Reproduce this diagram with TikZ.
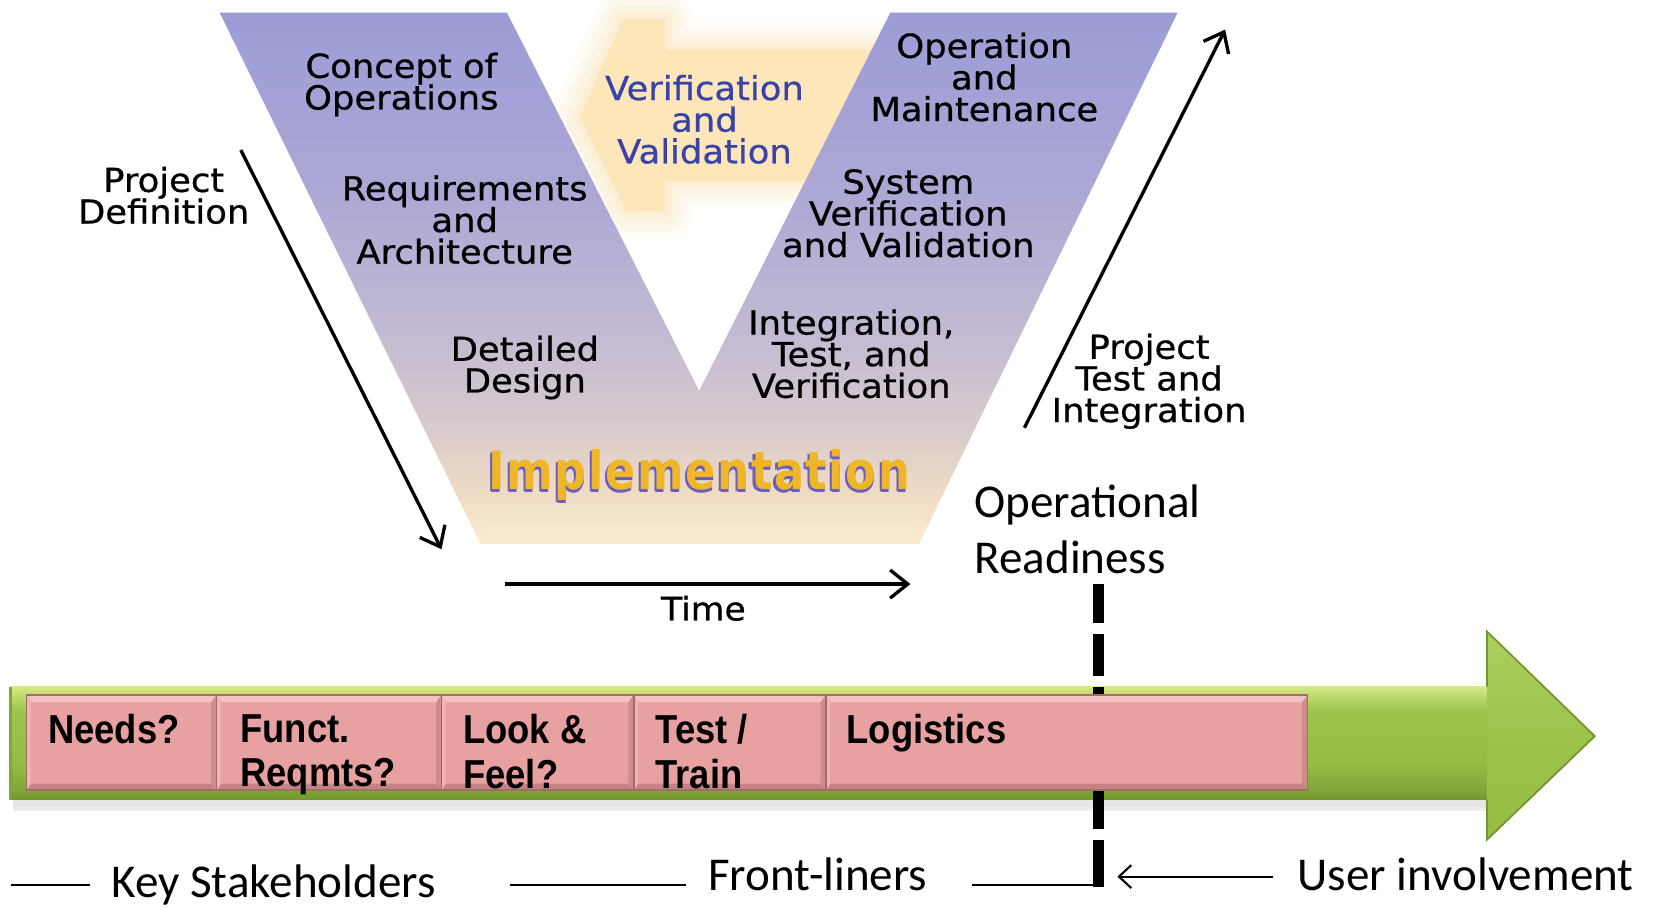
\documentclass[tikz,border=0pt]{standalone}
\usepackage{fontspec}
\setmainfont{DejaVu Sans}
\newfontfamily\vfont{DejaVu Sans}[FakeBold=0.7,FakeStretch=1.07]
\newfontfamily\implfont{DejaVu Sans}[FakeStretch=0.85,LetterSpace=3]
\newfontfamily\boxfont{Liberation Sans}[FakeStretch=0.9]
\newfontfamily\calfont{Carlito}
\usetikzlibrary{arrows.meta}
% lines in the V labels sit closer than their glyphs would allow
\newcommand\tightlines{\lineskiplimit=-6pt\relax\lineskip=0pt\relax}

% V-model colours
\definecolor{vtop}{RGB}{156,156,214}
\definecolor{vlav}{RGB}{172,168,213}
\definecolor{vmid}{RGB}{194,186,210}
\definecolor{vmauve}{RGB}{216,202,205}
\definecolor{vtan}{RGB}{240,220,196}
\definecolor{vpeach}{RGB}{252,236,206}
\definecolor{vvarrow}{RGB}{252,230,186}
\definecolor{vvtext}{RGB}{58,66,168}
\definecolor{implgold}{RGB}{238,182,40}
\definecolor{impledge}{RGB}{108,94,188}
% timeline bar colours
\definecolor{barlight}{RGB}{212,234,135}
\definecolor{barlighttwo}{RGB}{185,215,105}
\definecolor{barmid}{RGB}{150,190,70}
\definecolor{barmidtwo}{RGB}{156,195,76}
\definecolor{bardarktwo}{RGB}{128,166,56}
\definecolor{bardark}{RGB}{112,150,46}
\definecolor{barhead}{RGB}{172,208,96}
\definecolor{boxpink}{RGB}{231,161,161}
\definecolor{boxhi}{RGB}{244,194,194}
\definecolor{boxlo}{RGB}{198,130,130}
\definecolor{boxedge}{RGB}{160,108,108}

\pgfdeclareverticalshading{vmodel}{100bp}{color(0bp)=(vpeach); color(25bp)=(vpeach); color(29.5bp)=(vtan); color(36bp)=(vmauve); color(45bp)=(vmid); color(58bp)=(vlav); color(75bp)=(vtop); color(100bp)=(vtop)}
\pgfdeclareverticalshading{greenbody}{100bp}{color(0bp)=(bardark); color(25bp)=(bardark); color(29bp)=(bardarktwo); color(42bp)=(barmid); color(64bp)=(barmidtwo); color(70bp)=(barlighttwo); color(75bp)=(barlight); color(100bp)=(barlight)}

\tikzset{
  vlabel/.style={font=\vfont\fontsize{9.4}{9}\selectfont\tightlines, align=center, inner sep=0pt, text=black},
  vvlabel/.style={vlabel, text=vvtext},
  impltext/.style={font=\implfont\bfseries\fontsize{15}{15}\selectfont, inner sep=0pt},
  varrow/.style={line width=0.95pt, -{Straight Barb[length=5pt,width=8pt]}},
  boxtext/.style={font=\boxfont\bfseries\fontsize{11.5}{12.6}\selectfont, align=left, anchor=north west, inner sep=0pt},
  cal/.style={font=\calfont\fontsize{13.4}{16}\selectfont, inner sep=0pt, anchor=base west},
  thinline/.style={line width=0.6pt},
  readiness/.style={line width=3pt}
}

\begin{document}
\begin{tikzpicture}[x=0.010561cm, y=-0.010561cm]
\useasboundingbox (0,0) rectangle (1568,859);
\fill[white] (0,0) rectangle (1568,859);

% verification and validation arrow, soft-edged, behind the V
\foreach \w/\o in {16pt/0.10,12pt/0.14,8pt/0.2,4pt/0.3}
  \path[fill=vvarrow, draw=vvarrow, line width=\w, line join=round, opacity=\o]
    (549,111) -- (590,18) -- (630,18) -- (630,47) -- (845,47) -- (845,171) -- (630,171) -- (630,200) -- (593,200) -- cycle;
\path[fill=vvarrow]
  (549,111) -- (590,18) -- (630,18) -- (630,47) -- (845,47) -- (845,171) -- (630,171) -- (630,200) -- (593,200) -- cycle;

% the V
\shade[shading=vmodel] (208,12) -- (480,12) -- (662,370) -- (843,12) -- (1115,12) -- (870,515) -- (455,515) -- cycle;
\fill[white, opacity=0.10] (458,478) rectangle (868,515);

% V labels
\node[vlabel] (conops) at (380,80) {Concept of\\Operations};
\node[vlabel] (reqarch) at (440,208) {Requirements\\and\\Architecture};
\node[vlabel] (detdes) at (497,348) {Detailed\\Design};
\node[vvlabel] (vandv) at (667,113) {Verification\\and\\Validation};
\node[vlabel] (opmaint) at (932,73) {Operation\\and\\Maintenance};
\node[vlabel] (sysvv) at (860,202) {System\\Verification\\and Validation};
\node[vlabel] (itv) at (806,335) {Integration,\\Test, and\\Verification};
\node[vlabel] (projdef) at (155,185) {Project\\Definition};
\node[vlabel] (projtest) at (1088,361) {Project\\Test and\\Integration};
\node[vlabel, font=\vfont\fontsize{9.2}{9}\selectfont] (time) at (666,576) {Time};

% implementation, gold letters with a violet rim
\node[impltext, text=impledge] (implrimA) at (660,452) {Implementation};
\node[impltext, text=impledge] (implrimB) at (661.5,452.5) {Implementation};
\node[impltext, text=implgold] (impl) at (662,450) {Implementation};

% phase arrows
\coordinate (pdstart) at (228,142);
\coordinate (pdend) at (418,520);
\coordinate (ptstart) at (970,405);
\coordinate (ptend) at (1160,28);
\coordinate (tstart) at (478,553);
\coordinate (tend) at (862,553);
\draw[varrow] (pdstart) -- (pdend);
\draw[varrow] (ptstart) -- (ptend);
\draw[varrow] (tstart) -- (tend);

% operational readiness
\node[cal] (oper) at (922,490) {Operational};
\node[cal] (ready) at (922,543) {Readiness};

% timeline arrow with shadow
\fill[black, opacity=0.10] (12,757) rectangle (1408,764);
\fill[black, opacity=0.07] (12,764) rectangle (1408,768);
\shade[shading=greenbody] (10,650) rectangle (1410,757);
\shade[top color=barhead, bottom color=barmid, middle color=barmidtwo] (1408,598) -- (1510,697) -- (1408,795) -- cycle;
\draw[bardark, line width=0.5pt] (1408,650) -- (1408,598) -- (1510,697) -- (1408,795) -- (1408,757);
\draw[bardarktwo, line width=0.8pt] (10,650) -- (10,757);

% readiness marker (dashes), passing behind the phase boxes
\foreach \s/\e in {553/590,600/640,650/690,748/785,795/840}
  \draw[readiness] (1040,\s) -- (1040,\e);

% phase boxes
\foreach \a/\b in {25/205,205/418,418/600,600/782,782/1238}{
  \fill[boxpink] (\a,658) rectangle (\b,748);
  \fill[boxhi] (\a,658) -- (\b,658) -- (\b-5,665) -- (\a+5,665) -- cycle;
  \fill[boxlo] (\a,748) -- (\b,748) -- (\b-5,742) -- (\a+5,742) -- cycle;
  \fill[boxlo!70!boxpink] (\b,658) -- (\b,748) -- (\b-5,742) -- (\b-5,665) -- cycle;
  \fill[boxhi!60!boxpink] (\a,658) -- (\a,748) -- (\a+4,742) -- (\a+4,665) -- cycle;
  \draw[boxedge, line width=0.5pt] (\a,658) rectangle (\b,748);
}
\node[boxtext] (needs) at (45,676) {Needs?};
\node[boxtext] (funct) at (227,676) {Funct.\\Reqmts?};
\node[boxtext] (look) at (438,676) {Look \&\\Feel?};
\node[boxtext] (testtrain) at (620,676) {Test /\\Train};
\node[boxtext] (logi) at (801,676) {Logistics};

% involvement legend
\node[cal] (keys) at (105,850) {Key Stakeholders};
\node[cal] (front) at (670,843) {Front-liners};
\node[cal] (user) at (1228,843) {User involvement};
\coordinate (ksline) at (10,838);
\coordinate (ksend) at (85,838);
\coordinate (flline) at (483,838);
\coordinate (flend) at (650,838);
\coordinate (rdline) at (920,838);
\coordinate (rdend) at (1044,838);
\coordinate (uistart) at (1205,830);
\coordinate (uiend) at (1058,830);
\draw[thinline] (ksline) -- (ksend);
\draw[thinline] (flline) -- (flend);
\draw[thinline] (rdline) -- (rdend);
\draw[thinline, -{Straight Barb[length=3.5pt,width=6.5pt]}] (uistart) -- (uiend);
\end{tikzpicture}
\end{document}
